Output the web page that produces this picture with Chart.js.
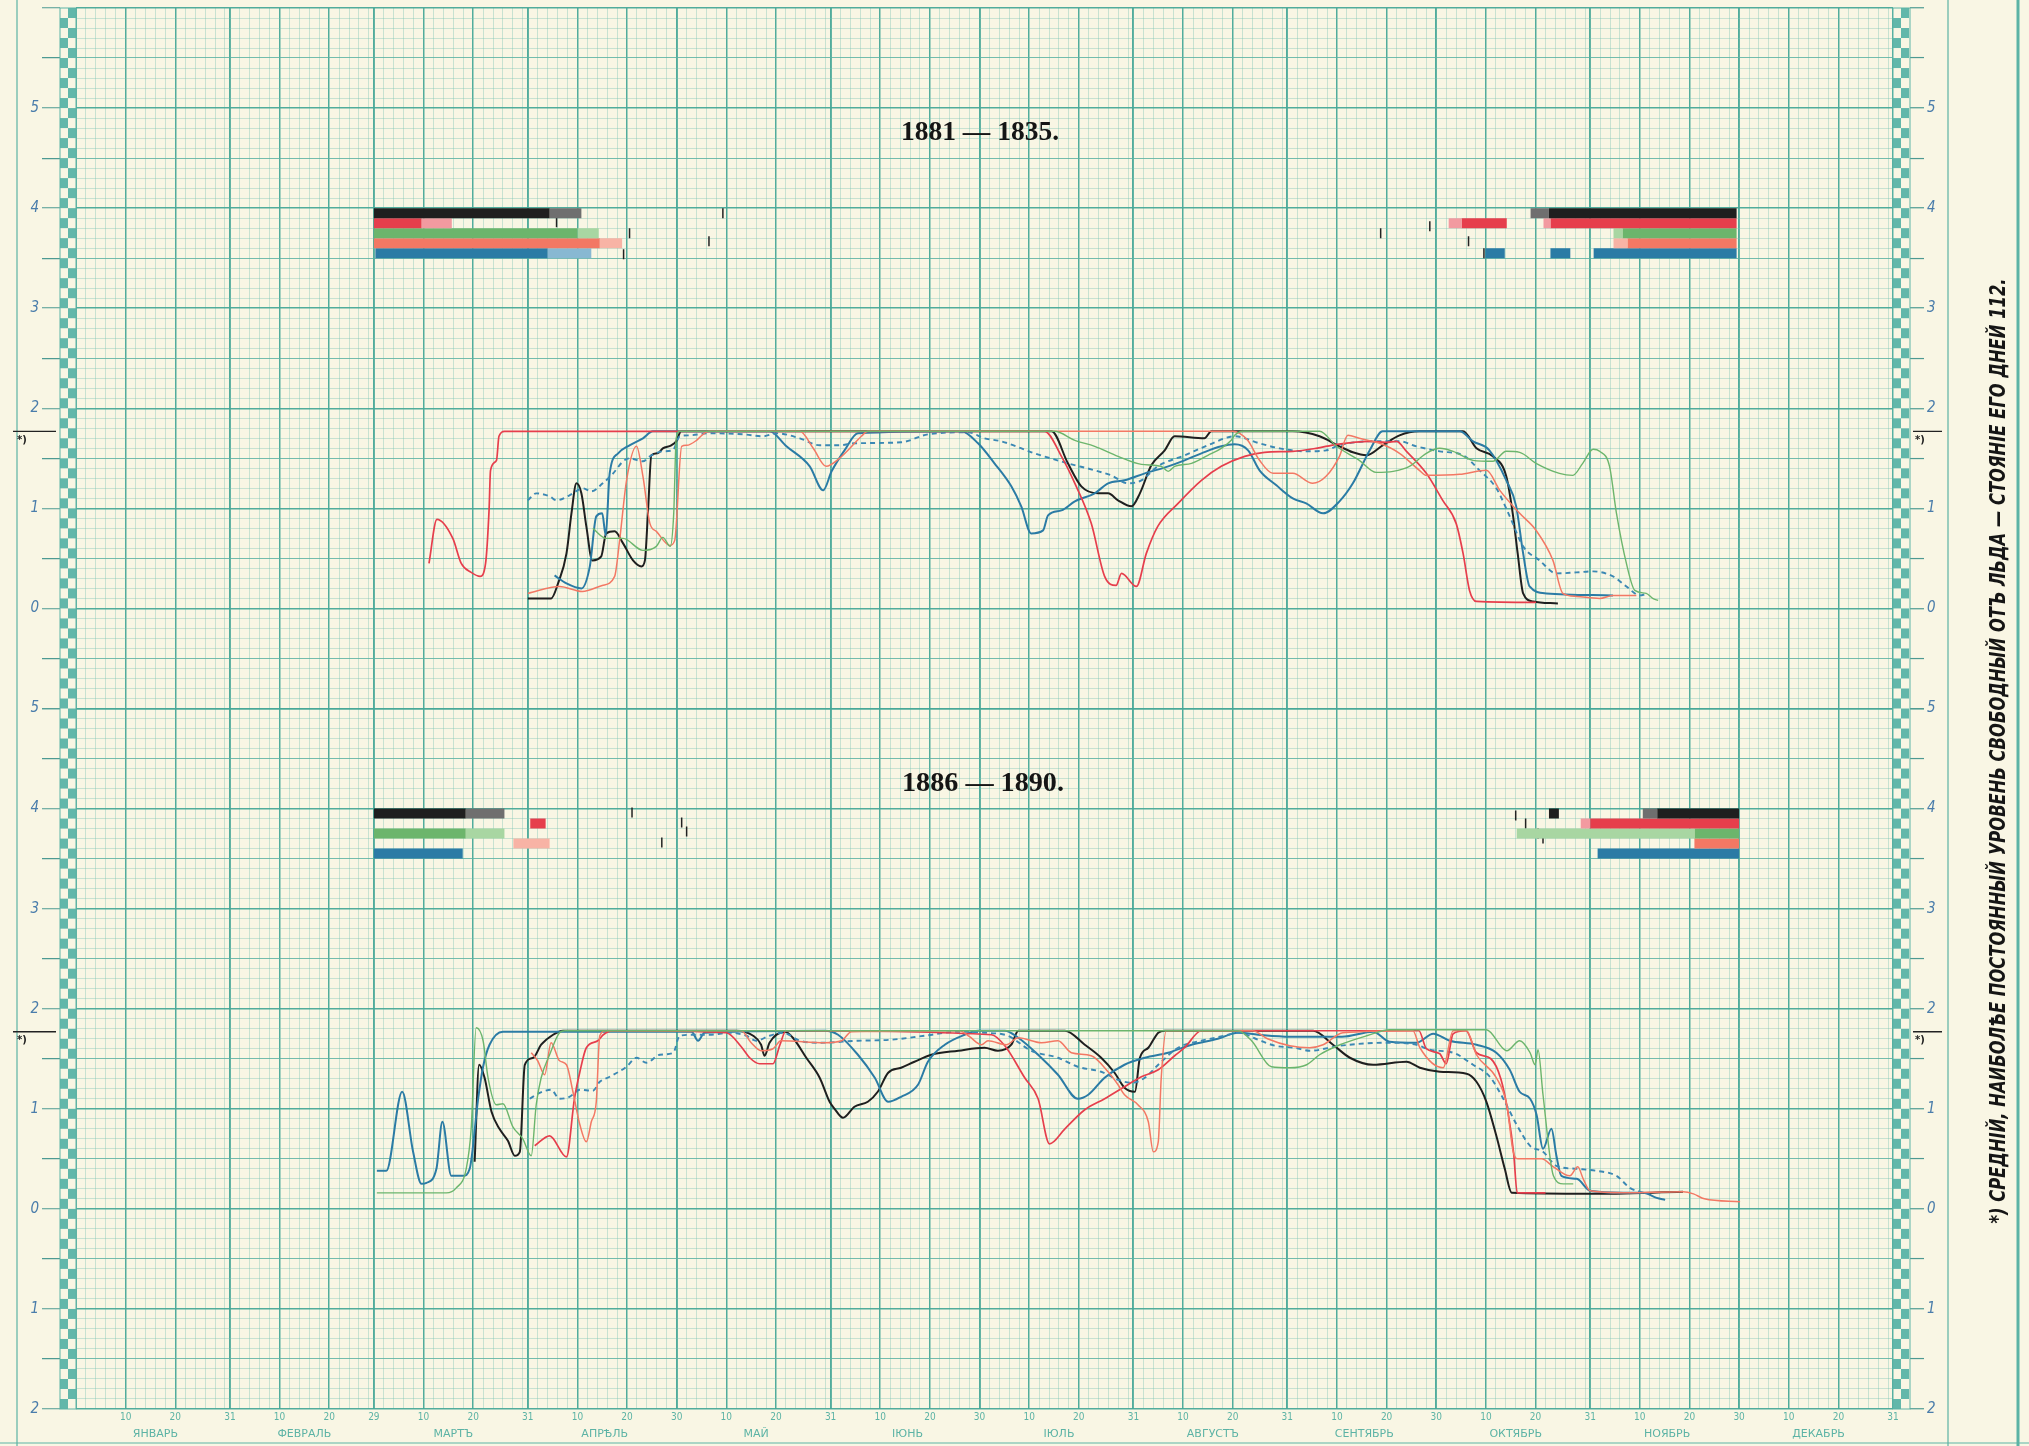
<!DOCTYPE html>
<html>
<head>
<meta charset="utf-8">
<script src="https://cdn.jsdelivr.net/npm/chart.js@4.4.1/dist/chart.umd.min.js"></script>
<style>
html, body { margin: 0; padding: 0; background: #f9f6e4; }
canvas { display: block; }
</style>
</head>
<body>
<canvas id="levelChart" width="2029" height="1446"></canvas>
<script>
// calendar (leap year, as on the sheet)
const monthNames = ['ЯНВАРЬ', 'ФЕВРАЛЬ', 'МАРТЪ', 'АПРѢЛЬ', 'МАЙ', 'ІЮНЬ', 'ІЮЛЬ', 'АВГУСТЪ', 'СЕНТЯБРЬ', 'ОКТЯБРЬ', 'НОЯБРЬ', 'ДЕКАБРЬ'];
const monthDays = [31, 29, 31, 30, 31, 30, 31, 31, 30, 31, 30, 31];
const panelTitles = ['1881 — 1835.', '1886 — 1890.'];
const meanLevel = 1.77;
const noteText = '*) СРЕДНІЙ, НАИБОЛѢЕ ПОСТОЯННЫЙ УРОВЕНЬ СВОБОДНЫЙ ОТЪ ЛЬДА — СТОЯНІЕ ЕГО ДНЕЙ 112.';

// 1881-1885, [day of year, level]
const topBlack = [[91,0.10],[95.7,0.10],[97.1,0.25],[98.8,0.55],[99.8,0.95],[100.8,1.25],[101.8,1.15],[102.8,0.82],[104,0.48],[105.8,0.52],[106.8,0.75],[108.5,0.77],[110.2,0.65],[112.2,0.48],[113.9,0.42],[114.6,0.48],[115.2,0.95],[115.9,1.53],[117.2,1.55],[118.2,1.60],[119.9,1.63],[120.9,1.67],[121.9,1.77],[196.5,1.77],[199.8,1.45],[202.5,1.22],[205.9,1.15],[207.9,1.15],[209.9,1.08],[212.6,1.02],[214.3,1.15],[216.6,1.43],[219.3,1.58],[221.3,1.72],[227.3,1.70],[228.7,1.77],[245.1,1.77],[250.5,1.72],[254.5,1.62],[257.2,1.56],[259.9,1.53],[263.2,1.63],[266.6,1.73],[270.6,1.77],[279.4,1.77],[282.1,1.60],[285.4,1.52],[288.1,1.32],[289.4,0.95],[290.4,0.55],[291.5,0.15],[293.5,0.07],[298.5,0.05]];
const topRed = [[71.1,0.45],[72.7,0.89],[75.9,0.70],[77.6,0.45],[79.6,0.36],[81.4,0.32],[82.5,0.45],[83.2,0.98],[83.5,1.38],[84.7,1.48],[85.2,1.72],[86.3,1.77],[195.1,1.77],[198.5,1.52],[201.2,1.25],[204.5,0.85],[207.2,0.32],[209.5,0.23],[210.6,0.35],[213.6,0.22],[215.6,0.55],[217.9,0.82],[222,1.05],[226.7,1.28],[230.7,1.42],[235.4,1.52],[239.4,1.56],[245.1,1.57],[249.8,1.60],[254,1.64],[260.6,1.67],[263.9,1.66],[266,1.67],[268,1.57],[272,1.35],[275.3,1.08],[278,0.85],[279.4,0.55],[280.7,0.18],[282.1,0.07],[294.1,0.06]];
const topSalmon = [[91,0.15],[97.4,0.22],[102,0.17],[106,0.23],[108.5,0.32],[109.5,0.68],[110.9,1.28],[112.9,1.62],[114.2,1.32],[115.6,0.85],[116.9,0.77],[119.6,0.63],[120.6,0.68],[122,1.62],[123,1.63],[125,1.68],[126.3,1.74],[127.5,1.77],[145.8,1.77],[148.5,1.60],[151.1,1.42],[153.8,1.50],[155.5,1.58],[158.2,1.72],[159.5,1.77],[233,1.77],[236,1.68],[238.4,1.48],[241.1,1.35],[245.1,1.35],[249.1,1.25],[251.8,1.32],[254.5,1.52],[256.2,1.73],[258.5,1.70],[262.6,1.65],[266.6,1.55],[270.6,1.38],[272,1.33],[278.7,1.34],[284.1,1.38],[286.8,1.18],[290.8,0.95],[294.1,0.78],[297.5,0.48],[299.5,0.15],[302.2,0.12],[306.9,0.10],[309.6,0.13],[314.3,0.13]];
const topGreen = [[104.1,0.80],[106.8,0.70],[110.2,0.70],[114.2,0.58],[116.9,0.62],[118.2,0.71],[119.7,0.62],[120.4,0.95],[120.9,1.70],[121.6,1.77],[197.1,1.77],[201.2,1.68],[205.2,1.62],[209.9,1.52],[214.6,1.44],[218.6,1.42],[220,1.37],[221.3,1.42],[224.7,1.45],[228,1.53],[230.7,1.60],[232.7,1.68],[233.4,1.73],[235,1.77],[250.5,1.77],[253.9,1.62],[258.5,1.48],[261.9,1.36],[265.3,1.37],[268.6,1.42],[272,1.55],[274.7,1.60],[277.4,1.57],[281.4,1.48],[285.4,1.47],[288.1,1.57],[290.8,1.56],[294.1,1.45],[298.8,1.35],[301.5,1.33],[303.5,1.45],[305.6,1.59],[306.9,1.57],[308.9,1.42],[310.3,0.95],[312.3,0.45],[314,0.18],[316.3,0.15],[317.6,0.10],[318.7,0.08]];
const topBlue = [[96.4,0.33],[98.8,0.25],[101.8,0.20],[103.5,0.42],[104.8,0.92],[106,0.95],[106.7,0.73],[107.5,1.35],[109.2,1.55],[111.5,1.63],[114.2,1.70],[116.2,1.77],[139.7,1.77],[143.1,1.62],[147.8,1.42],[150.5,1.18],[152.2,1.37],[154.8,1.58],[157.5,1.75],[178.3,1.77],[181.7,1.65],[185,1.45],[188.4,1.22],[190.4,1.02],[192.4,0.75],[194.8,0.78],[195.8,0.93],[198.5,0.98],[201.2,1.07],[205.2,1.15],[207.9,1.25],[211.2,1.28],[215.3,1.35],[220,1.42],[223.3,1.48],[226.7,1.55],[230.7,1.62],[233.4,1.64],[236.1,1.58],[238.4,1.38],[241.8,1.23],[245.1,1.10],[247.8,1.05],[251.2,0.95],[254.5,1.07],[257.2,1.25],[260.6,1.58],[263.2,1.77],[278.7,1.77],[281.4,1.67],[284.7,1.58],[288.1,1.28],[290.1,1.02],[291.5,0.55],[292.8,0.22],[296.2,0.15],[309.6,0.13]];
const topMean = [[91,1.08],[92.7,1.15],[95.4,1.12],[96.8,1.08],[99.4,1.13],[102.1,1.20],[103.8,1.17],[106.1,1.25],[108.2,1.35],[110.2,1.47],[111.5,1.50],[114.2,1.47],[115.6,1.52],[118.2,1.57],[120.2,1.58],[121.6,1.72],[123.6,1.73],[127.6,1.75],[134.4,1.74],[138.4,1.72],[141.1,1.75],[145.8,1.70],[149.8,1.63],[153.8,1.63],[156.8,1.65],[166.2,1.66],[171.6,1.74],[179.7,1.76],[183,1.70],[186.4,1.67],[193.1,1.55],[199.8,1.45],[205.2,1.38],[208.5,1.33],[211.9,1.25],[214.6,1.28],[217.9,1.42],[223.3,1.53],[228,1.63],[233.4,1.72],[238.4,1.65],[242.4,1.60],[247.8,1.57],[251.8,1.58],[254.5,1.63],[260.6,1.67],[266.6,1.67],[270,1.62],[274.7,1.57],[279.4,1.53],[282.7,1.38],[286.1,1.20],[288.8,0.92],[291.5,0.62],[294.8,0.48],[298.2,0.35],[302.2,0.36],[305.6,0.37],[309.6,0.32],[312.3,0.22],[315,0.13],[316.6,0.15]];

// 1886-1890
const botBlack = [[80.3,0.47],[81.2,1.44],[82.3,1.31],[83.7,0.97],[85.3,0.80],[87,0.68],[88.4,0.53],[89.4,0.57],[90.4,1.44],[92.1,1.51],[93.7,1.64],[96.1,1.74],[98.1,1.78],[133,1.78],[136.4,1.73],[138,1.64],[138.7,1.53],[139.7,1.66],[142.8,1.77],[144.4,1.71],[147.1,1.51],[149.8,1.31],[151.8,1.07],[152.8,1.00],[154.5,0.91],[156.8,1.02],[159.5,1.07],[161.5,1.17],[163.6,1.36],[166.2,1.41],[168.9,1.47],[172.3,1.54],[177.7,1.58],[183,1.61],[185.7,1.58],[188.4,1.64],[189.8,1.78],[199.2,1.78],[203.2,1.64],[206.5,1.51],[209.2,1.36],[211.2,1.21],[213.3,1.17],[214.3,1.51],[216,1.61],[218,1.76],[219.3,1.78],[249.2,1.78],[253.2,1.64],[256.6,1.51],[261.3,1.44],[268,1.47],[270.7,1.41],[274.7,1.37],[280.1,1.35],[282.1,1.27],[284.1,1.07],[286.1,0.73],[287.8,0.40],[289.2,0.16],[305,0.15],[323.7,0.17]];
const botRed = [[92.4,0.63],[95.4,0.73],[98.8,0.52],[100.4,1.10],[101.5,1.37],[102.8,1.61],[105.1,1.68],[106.2,1.74],[108.2,1.78],[131,1.76],[134,1.62],[135.7,1.51],[137.7,1.45],[140.4,1.45],[141.8,1.64],[143,1.78],[184.4,1.74],[187.1,1.63],[191.1,1.31],[193.8,1.10],[196.1,0.65],[199.2,0.80],[203.2,0.99],[207.2,1.10],[211.2,1.22],[214.6,1.32],[218,1.39],[221.3,1.53],[223.3,1.61],[226.7,1.78],[270.5,1.78],[272,1.60],[274.7,1.55],[276,1.45],[277.4,1.75],[280,1.78],[282.1,1.56],[285,1.50],[287,1.30],[288.5,0.95],[289.6,0.55],[290.3,0.16],[296,0.16]];
const botSalmon = [[91.7,1.56],[93,1.48],[94.4,1.34],[95.7,1.66],[97.4,1.48],[98.8,1.44],[100.1,1.17],[101.5,0.84],[102.8,0.67],[103.8,0.87],[104.8,1.07],[105.5,1.73],[106.8,1.78],[134,1.78],[136,1.66],[138,1.58],[140.4,1.60],[142,1.68],[150.8,1.66],[154.2,1.68],[156.2,1.77],[178,1.78],[180,1.72],[182.4,1.64],[183.7,1.68],[187.4,1.64],[189.8,1.71],[194.5,1.66],[197.8,1.68],[200.5,1.56],[204.5,1.53],[207.9,1.37],[209.9,1.24],[211.2,1.14],[213.9,1.04],[216,0.87],[217,0.57],[218,0.67],[218.6,1.31],[219.6,1.78],[237,1.78],[240,1.70],[244.5,1.63],[248.5,1.61],[251.2,1.64],[255.2,1.76],[269.3,1.78],[270.7,1.61],[275.4,1.41],[277.4,1.78],[280.1,1.78],[282.1,1.54],[286.1,1.31],[288.2,1.04],[289.5,0.57],[290.5,0.50],[295.2,0.50],[297.6,0.42],[300.9,0.33],[302.5,0.42],[303.6,0.30],[305,0.18],[311.7,0.16],[323.7,0.17],[325.8,0.15],[328,0.10],[335.2,0.07]];
const botGreen = [[60.6,0.16],[74.6,0.16],[76.6,0.21],[78.6,0.40],[79.6,0.80],[80.6,1.81],[82,1.68],[83,1.31],[84.7,1.04],[86,1.05],[88,0.82],[90,0.70],[91.7,0.53],[92.7,1.04],[93.7,1.31],[95.4,1.54],[97.4,1.76],[98.5,1.78],[234,1.78],[236.8,1.68],[240.8,1.42],[244.5,1.41],[247.9,1.44],[250.5,1.54],[254.6,1.64],[260,1.73],[264.6,1.79],[284.1,1.79],[288.2,1.58],[290.8,1.68],[292.9,1.56],[293.9,1.44],[294.5,1.59],[295.5,1.14],[297.6,0.33],[299.6,0.25],[301.6,0.25]];
const botBlue = [[60.6,0.38],[62.5,0.38],[65.7,1.17],[67.9,0.57],[69.6,0.25],[70.6,0.26],[72.6,0.40],[73.8,0.87],[75.6,0.33],[78,0.33],[79.3,0.40],[81,1.10],[82,1.42],[83.3,1.64],[86,1.77],[124,1.77],[125.3,1.68],[126.6,1.76],[150.8,1.78],[153.5,1.74],[157.5,1.54],[160.9,1.31],[163.6,1.07],[166.2,1.12],[169.6,1.24],[171.6,1.47],[175,1.64],[179,1.74],[181.7,1.78],[187.1,1.78],[189.8,1.71],[193.8,1.54],[197.8,1.34],[201.8,1.10],[203.9,1.14],[207.2,1.31],[211.2,1.44],[215.3,1.51],[220,1.56],[224.7,1.64],[230,1.70],[234.1,1.76],[238.1,1.74],[244.5,1.72],[255,1.72],[261.3,1.77],[264.6,1.67],[270,1.66],[273.4,1.75],[276.7,1.68],[282.1,1.64],[286.1,1.56],[288.8,1.39],[290.8,1.17],[292.9,1.10],[294.2,0.94],[295.5,0.60],[297.2,0.80],[298.2,0.53],[299.2,0.33],[302.3,0.30],[305,0.18],[311.7,0.16],[315.7,0.16],[318.4,0.11],[320.1,0.09]];
const botMean = [[91.4,1.10],[93.4,1.16],[95.7,1.19],[97.4,1.10],[99.4,1.12],[101.5,1.19],[104.1,1.18],[105.5,1.27],[107.5,1.32],[110.9,1.42],[112.9,1.51],[114.9,1.46],[117.6,1.54],[120.3,1.56],[121.6,1.73],[124.3,1.74],[127.6,1.74],[131.7,1.76],[135,1.73],[137,1.68],[139.7,1.73],[142.4,1.76],[145.8,1.68],[149.8,1.66],[157.5,1.68],[164.2,1.69],[171,1.73],[177.7,1.77],[183,1.76],[187.7,1.73],[192.4,1.58],[197.8,1.51],[201.8,1.42],[206.5,1.37],[209.9,1.29],[212.6,1.26],[215.3,1.31],[218,1.44],[222,1.61],[226.7,1.68],[231.4,1.73],[234.1,1.76],[238.1,1.69],[241.5,1.63],[245.5,1.61],[248.5,1.58],[254.6,1.63],[264,1.66],[270,1.64],[272.7,1.59],[277.4,1.56],[281.4,1.44],[284.8,1.32],[287.5,1.10],[290.2,0.84],[292.9,0.63],[295.5,0.57],[298.2,0.43],[302.3,0.40],[306.3,0.38],[310.3,0.33],[313,0.21],[315.7,0.16]];

// ice cover strips: [from day, to day, 1 = full ice / 0 = partial]
const topIceBlack = [[60,95.4,1],[95.4,101.8,0],[293,296.7,0],[296.7,334.5,1]];
const topIceRed = [[60,69.6,1],[69.6,75.7,0],[276.5,279.1,0],[279.1,288.2,1],[295.6,297,0],[297,334.5,1]];
const topIceGreen = [[60,101,1],[101,105.3,0],[309.7,311.5,0],[311.5,334.5,1]];
const topIceSalmon = [[60,105.5,1],[105.5,110,0],[309.7,312.5,0],[312.5,334.5,1]];
const topIceBlue = [[60.3,95,1],[95,103.8,0],[283.9,287.8,1],[297,301,1],[305.7,334.5,1]];
const botIceBlack = [[60,78.5,1],[78.5,86.3,0],[296.7,298.7,1],[315.6,318.5,0],[318.5,335,1]];
const botIceRed = [[91.5,94.6,1],[303.1,305,0],[305,335,1]];
const botIceGreen = [[60,78.5,1],[78.5,86.3,0],[290.2,326,0],[326,335,1]];
const botIceSalmon = [[88.1,95.4,0],[326,335,1]];
const botIceBlue = [[60,77.9,1],[306.5,335,1]];
// single observation marks near the strips: [day, level]
const topMarks = [[96.8,3.86],[111.5,3.75],[130.3,3.95],[127.5,3.67],[110.3,3.54],[262.8,3.75],[272.7,3.82],[280.5,3.67],[283.6,3.55]];
const botMarks = [[112,3.96],[122,3.86],[123,3.77],[118,3.66],[290,3.93],[292,3.85],[294.5,3.75],[295.5,3.7]];

const seriesColors = { black: '#1f1f1f', red: '#e63e4c', green: '#6cb56c', salmon: '#f37864', blue: '#2b7ba5', mean: '#3b88b4' };
const lightColors = { black: '#6f6f6f', red: '#f29aa0', green: '#a8d6a2', salmon: '#f8b3a5', blue: '#88b8d2' };
const teal = '#5cb3a5';
const labelBlue = '#4a7dab';

// x grid: every 2nd day thin, 10th/20th and month ends strong
const xLabels = {};
const xKind = { 0: 'month' };
const xTicks = [0];
let monthStart = 0;
const monthMids = [];
monthDays.forEach(n => {
    for (let d = 1; d <= n; d++) {
        const v = monthStart + d;
        if (d === n) { xKind[v] = 'month'; xLabels[v] = String(n); xTicks.push(v); }
        else if (d === 10 || d === 20) { xKind[v] = 'major'; xLabels[v] = String(d); xTicks.push(v); }
        else if (d % 2 === 0) { xKind[v] = 'minor'; xTicks.push(v); }
    }
    monthMids.push(monthStart + n / 2 + 0.5);
    monthStart += n;
});

function tenthTicks(min, max) {
    const out = [];
    for (let i = min * 10; i <= max * 10; i++) out.push({ value: i / 10 });
    return out;
}
function yKind(v) {
    const t = Math.round(v * 10);
    if (t % 10 === 0) return 'major';
    if (t % 5 === 0) return 'half';
    return 'minor';
}
const gridColor = { major: 'rgba(72,168,152,0.95)', month: 'rgba(72,168,152,0.95)', half: 'rgba(92,178,163,0.85)', minor: 'rgba(120,194,178,0.55)' };
const gridWidth = { major: 1.5, month: 1.9, half: 1.1, minor: 0.7 };
function zeroPad(scale) {
    scale.paddingLeft = 0; scale.paddingRight = 0; scale.paddingTop = 0; scale.paddingBottom = 0;
}

function yAxis(min, max, position, onArea, labelFn) {
    return {
        type: 'linear', position: position, stack: position, stackWeight: max - min,
        min: min, max: max,
        afterBuildTicks: s => { s.ticks = tenthTicks(min, max); },
        afterFit: s => { s.width = position === 'left' ? 76 : 55; zeroPad(s); },
        border: { display: false },
        grid: {
            drawOnChartArea: onArea,
            color: c => gridColor[yKind(c.tick.value)],
            lineWidth: c => gridWidth[yKind(c.tick.value)],
            tickLength: position === 'left' ? 34 : 31,
            tickColor: c => yKind(c.tick.value) === 'minor' ? 'rgba(0,0,0,0)' : '#4d9a92',
            tickWidth: 1.2
        },
        ticks: {
            autoSkip: false, padding: 3, color: labelBlue,
            font: { family: '"DejaVu Sans Condensed", "DejaVu Sans"', size: 15, style: 'italic' },
            callback: v => {
                const t = Math.round(v * 10);
                return t % 10 === 0 ? labelFn(t / 10) : '';
            }
        }
    };
}
const topLabel = v => (v >= 0 && v <= 5 ? String(v) : '');
const botLabel = v => (v <= 5 ? String(Math.abs(v)) : '');

function lineSet(points, color, width, yAxisID, dash) {
    return {
        type: 'line', data: points.map(p => ({ x: p[0], y: p[1] })), yAxisID: yAxisID,
        borderColor: color, borderWidth: width, borderDash: dash || [],
        pointRadius: 0, tension: 0.2, cubicInterpolationMode: 'monotone', fill: false
    };
}
function iceSets(strips, rowLevel, colorKey, yAxisID) {
    return strips.map(s => ({
        type: 'line', data: [{ x: s[0], y: rowLevel }, { x: s[1], y: rowLevel }], yAxisID: yAxisID,
        borderColor: s[2] ? seriesColors[colorKey] : lightColors[colorKey], borderWidth: 10,
        borderCapStyle: 'butt', pointRadius: 0, fill: false
    }));
}
function markSet(marks, yAxisID) {
    return {
        type: 'scatter', data: marks.map(m => ({ x: m[0], y: m[1] })), yAxisID: yAxisID,
        pointStyle: 'line', rotation: 90, pointRadius: 5, borderColor: '#222', borderWidth: 1.5
    };
}

const datasets = [].concat(
    iceSets(topIceBlack, 3.95, 'black', 'yTop'),
    iceSets(topIceRed, 3.85, 'red', 'yTop'),
    iceSets(topIceGreen, 3.75, 'green', 'yTop'),
    iceSets(topIceSalmon, 3.65, 'salmon', 'yTop'),
    iceSets(topIceBlue, 3.55, 'blue', 'yTop'),
    iceSets(botIceBlack, 3.95, 'black', 'yBot'),
    iceSets(botIceRed, 3.85, 'red', 'yBot'),
    iceSets(botIceGreen, 3.75, 'green', 'yBot'),
    iceSets(botIceSalmon, 3.65, 'salmon', 'yBot'),
    iceSets(botIceBlue, 3.55, 'blue', 'yBot'),
    [markSet(topMarks, 'yTop'), markSet(botMarks, 'yBot')],
    [
        lineSet(topGreen, seriesColors.green, 1.4, 'yTop'),
        lineSet(topSalmon, seriesColors.salmon, 1.5, 'yTop'),
        lineSet(topRed, seriesColors.red, 1.7, 'yTop'),
        lineSet(topMean, seriesColors.mean, 1.9, 'yTop', [5, 4]),
        lineSet(topBlue, seriesColors.blue, 2, 'yTop'),
        lineSet(topBlack, seriesColors.black, 2, 'yTop'),
        lineSet(botGreen, seriesColors.green, 1.4, 'yBot'),
        lineSet(botSalmon, seriesColors.salmon, 1.5, 'yBot'),
        lineSet(botRed, seriesColors.red, 1.7, 'yBot'),
        lineSet(botMean, seriesColors.mean, 1.9, 'yBot', [5, 4]),
        lineSet(botBlue, seriesColors.blue, 2, 'yBot'),
        lineSet(botBlack, seriesColors.black, 2, 'yBot')
    ]
);

// paper, frame, checkered edges, titles and the footnote
const sheetPlugin = {
    id: 'sheet',
    beforeDraw(chart) {
        const ctx = chart.ctx;
        ctx.save();
        ctx.fillStyle = '#f9f6e4';
        ctx.fillRect(0, 0, chart.width, chart.height);
        ctx.strokeStyle = teal;
        ctx.lineWidth = 1.2;
        ctx.beginPath();
        ctx.moveTo(17, 0); ctx.lineTo(17, 1446);
        ctx.moveTo(1948, 0); ctx.lineTo(1948, 1446);
        ctx.moveTo(0, 1443); ctx.lineTo(2029, 1443);
        ctx.stroke();
        ctx.lineWidth = 3;
        ctx.beginPath();
        ctx.moveTo(2018, 0); ctx.lineTo(2018, 1446);
        ctx.stroke();
        ctx.restore();
    },
    beforeDatasetsDraw(chart) {
        const ctx = chart.ctx;
        const area = chart.chartArea;
        ctx.save();
        ctx.fillStyle = '#f9f6e4';
        ctx.fillRect(area.left - 16, area.top - 1, 16, area.bottom - area.top + 2);
        ctx.fillRect(area.right, area.top - 1, 17, area.bottom - area.top + 2);
        ctx.fillStyle = '#62b7aa';
        [chart.scales.yTop, chart.scales.yBot].forEach(sc => {
            const ticks = tenthTicks(sc.min, sc.max);
            for (let i = 0; i < ticks.length - 1; i++) {
                const y0 = sc.getPixelForValue(ticks[i + 1].value);
                const y1 = sc.getPixelForValue(ticks[i].value);
                const odd = Math.round(ticks[i].value * 10) % 2 !== 0;
                ctx.fillRect(area.left - 16 + (odd ? 8 : 0), y0, 8, y1 - y0);
                ctx.fillRect(area.right + (odd ? 8 : 0), y0, 8, y1 - y0);
            }
        });
        ctx.strokeStyle = teal;
        ctx.lineWidth = 1;
        ctx.strokeRect(area.left - 16, area.top, 16, area.bottom - area.top);
        ctx.strokeRect(area.right, area.top, 17, area.bottom - area.top);
        ctx.restore();
    },
    afterDraw(chart) {
        const ctx = chart.ctx;
        ctx.save();
        // mean-level marks
        [chart.scales.yTop, chart.scales.yBot].forEach(sc => {
            const y = sc.getPixelForValue(meanLevel);
            ctx.strokeStyle = '#222';
            ctx.lineWidth = 1.3;
            ctx.beginPath();
            ctx.moveTo(13, y); ctx.lineTo(56, y);
            ctx.moveTo(1913, y); ctx.lineTo(1942, y);
            ctx.stroke();
            ctx.fillStyle = '#222';
            ctx.font = 'bold 10px "DejaVu Sans"';
            ctx.textAlign = 'left';
            ctx.textBaseline = 'top';
            ctx.fillText('*)', 17, y + 4);
            ctx.fillText('*)', 1915, y + 4);
        });
        // panel titles
        ctx.fillStyle = '#151515';
        ctx.textAlign = 'center';
        ctx.textBaseline = 'middle';
        ctx.font = 'bold 27px "Liberation Serif", "DejaVu Serif"';
        [[panelTitles[0], 980, 133, 158], [panelTitles[1], 983, 784, 162]].forEach(t => {
            const w = ctx.measureText(t[0]).width;
            ctx.save();
            ctx.translate(t[1], t[2]);
            ctx.scale(t[3] / w, 1);
            ctx.fillText(t[0], 0, 0);
            ctx.restore();
        });
        // footnote, vertical along the right margin
        ctx.font = 'bold italic 22px "DejaVu Sans Condensed", "DejaVu Sans"';
        const w = ctx.measureText(noteText).width;
        ctx.translate(1999, 751);
        ctx.rotate(-Math.PI / 2);
        ctx.scale(945 / w, 1);
        ctx.fillText(noteText, 0, 0);
        ctx.restore();
    }
};

new Chart(document.getElementById('levelChart'), {
    data: { datasets: datasets },
    options: {
        responsive: false,
        animation: false,
        events: [],
        devicePixelRatio: 1,
        layout: { padding: { left: 0, right: 81, top: 8, bottom: 0 } },
        plugins: { legend: { display: false }, tooltip: { enabled: false } },
        scales: {
            x: {
                type: 'linear', position: 'bottom', min: 0, max: 366,
                afterBuildTicks: s => { s.ticks = xTicks.map(v => ({ value: v })); },
                afterFit: s => { s.height = 16; zeroPad(s); },
                border: { display: false },
                grid: {
                    drawTicks: false,
                    color: c => gridColor[xKind[c.tick.value] || 'minor'],
                    lineWidth: c => gridWidth[xKind[c.tick.value] || 'minor']
                },
                ticks: {
                    autoSkip: false, maxRotation: 0, padding: 2, color: teal,
                    font: { family: '"DejaVu Sans Condensed", "DejaVu Sans"', size: 10 },
                    callback: v => xLabels[v] || ''
                }
            },
            xm: {
                type: 'linear', position: 'bottom', min: 0, max: 366,
                afterBuildTicks: s => { s.ticks = monthMids.map(v => ({ value: v })); },
                afterFit: s => { s.height = 21; zeroPad(s); },
                border: { display: false },
                grid: { display: false, drawTicks: false },
                ticks: {
                    autoSkip: false, maxRotation: 0, padding: 3, color: teal,
                    font: { family: '"DejaVu Sans"', size: 11 },
                    callback: (v, i) => monthNames[i]
                }
            },
            yBot: yAxis(-2, 5, 'left', true, botLabel),
            yTop: yAxis(-1, 6, 'left', true, topLabel),
            yTopR: yAxis(-1, 6, 'right', false, topLabel),
            yBotR: yAxis(-2, 5, 'right', false, botLabel)
        }
    },
    plugins: [sheetPlugin]
});
</script>
</body>
</html>
